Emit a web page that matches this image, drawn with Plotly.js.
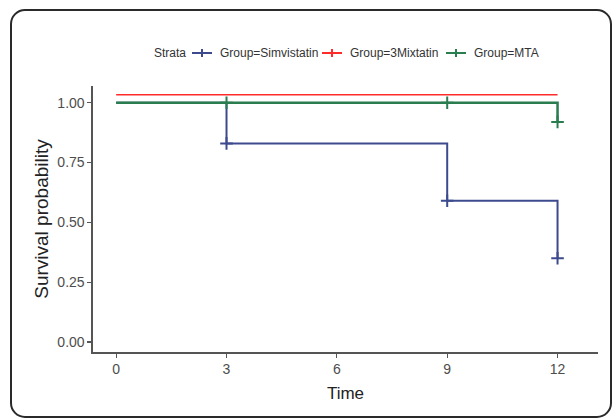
<!DOCTYPE html>
<html>
<head>
<meta charset="utf-8">
<script src="https://cdn.plot.ly/plotly-3.0.1.min.js"></script>
<style>
html,body{margin:0;padding:0;background:#fff;}
#wrap{position:relative;width:615px;height:420px;}
#chart{position:absolute;left:0;top:0;width:615px;height:420px;}
#frame{position:absolute;left:10px;top:9px;width:598px;height:405px;border:2px solid #2a2a2a;border-radius:15px;pointer-events:none;}
</style>
</head>
<body>
<div id="wrap"><div id="chart"></div><div id="frame"></div></div>
<script>
// Data
const legendTitle = "Strata";
const groups = ["Group=Simvistatin", "Group=3Mixtatin", "Group=MTA"];
const simTime = [0, 3, 9, 12];
const simSurv = [1.00, 0.83, 0.59, 0.35];
const mixTime = [0, 12];
const mixSurv = [1.033, 1.033];
const mtaTime = [0, 3, 9, 12];
const mtaSurv = [1.00, 1.00, 1.00, 0.92];
const simCensorTime = [3, 9, 12];
const simCensorSurv = [0.83, 0.59, 0.35];
const mtaCensorTime = [3, 9, 12];
const mtaCensorSurv = [1.00, 1.00, 0.92];
const xTicks = [0, 3, 6, 9, 12];
const yTicks = [0, 0.25, 0.5, 0.75, 1.0];
const yTickText = ["0.00", "0.25", "0.50", "0.75", "1.00"];

const groupColors = ["#3d4b8e", "#ff2b2b", "#2a7d4f"];

function censorTrace(x, y, color) {
  return {x: x, y: y, type: "scatter", mode: "markers", showlegend: false, hoverinfo: "skip",
    marker: {symbol: "cross-thin", size: 9, color: color, line: {color: color, width: 2}}};
}
function stepTrace(x, y, color, name, w) {
  return {x: x, y: y, type: "scatter", mode: "lines", name: name, showlegend: false, hoverinfo: "skip",
    line: {shape: "hv", color: color, width: w}};
}

const traces = [
  stepTrace(simTime, simSurv, groupColors[0], groups[0], 2),
  stepTrace(mixTime, mixSurv, groupColors[1], groups[1], 1.5),
  stepTrace(mtaTime, mtaSurv, groupColors[2], groups[2], 2.5),
  censorTrace(simCensorTime, simCensorSurv, groupColors[0]),
  censorTrace(mtaCensorTime, mtaCensorSurv, groupColors[2])
];

// Legend (drawn as layout decoration), pixel positions converted to paper coords
const M = {l: 93, r: 17, t: 86, b: 68};
const PW = 615 - M.l - M.r, PH = 420 - M.t - M.b;
const px = v => (v - M.l) / PW;
const py = v => (420 - M.b - v) / PH;
const legY = 53;
const legendFont = {family: "Liberation Sans, Arial, sans-serif", size: 12, color: "#333"};
const annotations = [{xref: "paper", yref: "paper", x: px(152), y: py(legY), xanchor: "left", yanchor: "middle",
  text: legendTitle, showarrow: false, font: legendFont}];
const shapes = [];
const symStart = [192, 322, 446];
const textStart = [218, 348, 472];
groups.forEach((g, i) => {
  const c = groupColors[i];
  shapes.push({type: "line", xref: "paper", yref: "paper", x0: px(symStart[i]), x1: px(symStart[i] + 20),
    y0: py(legY), y1: py(legY), line: {color: c, width: 2}});
  shapes.push({type: "line", xref: "paper", yref: "paper", x0: px(symStart[i] + 10), x1: px(symStart[i] + 10),
    y0: py(legY - 4), y1: py(legY + 4), line: {color: c, width: 2}});
  annotations.push({xref: "paper", yref: "paper", x: px(textStart[i]), y: py(legY), xanchor: "left", yanchor: "middle",
    text: g, showarrow: false, font: legendFont});
});

const axisCommon = {showgrid: false, zeroline: false, showline: true, linecolor: "#555", linewidth: 1.6,
  ticks: "outside", ticklen: 4, tickwidth: 1.2, tickcolor: "#555",
  tickfont: {family: "Liberation Sans, Arial, sans-serif", size: 14, color: "#4d4d4d"}};

const layout = {
  width: 615, height: 420,
  margin: M,
  paper_bgcolor: "rgba(0,0,0,0)", plot_bgcolor: "#fff",
  font: {family: "Liberation Sans, Arial, sans-serif"},
  xaxis: Object.assign({}, axisCommon, {range: [-0.63, 13.1], tickvals: xTicks, ticktext: xTicks.map(String),
    title: {text: "Time", font: {size: 17, color: "#222"}, standoff: 10}}),
  yaxis: Object.assign({}, axisCommon, {range: [-0.042, 1.07], tickvals: yTicks, ticktext: yTickText,
    title: {text: "Survival probability", font: {size: 19, color: "#222"}, standoff: 3}}),
  showlegend: false,
  annotations: annotations,
  shapes: shapes
};

Plotly.newPlot("chart", traces, layout, {displayModeBar: false, staticPlot: true});
</script>
</body>
</html>
